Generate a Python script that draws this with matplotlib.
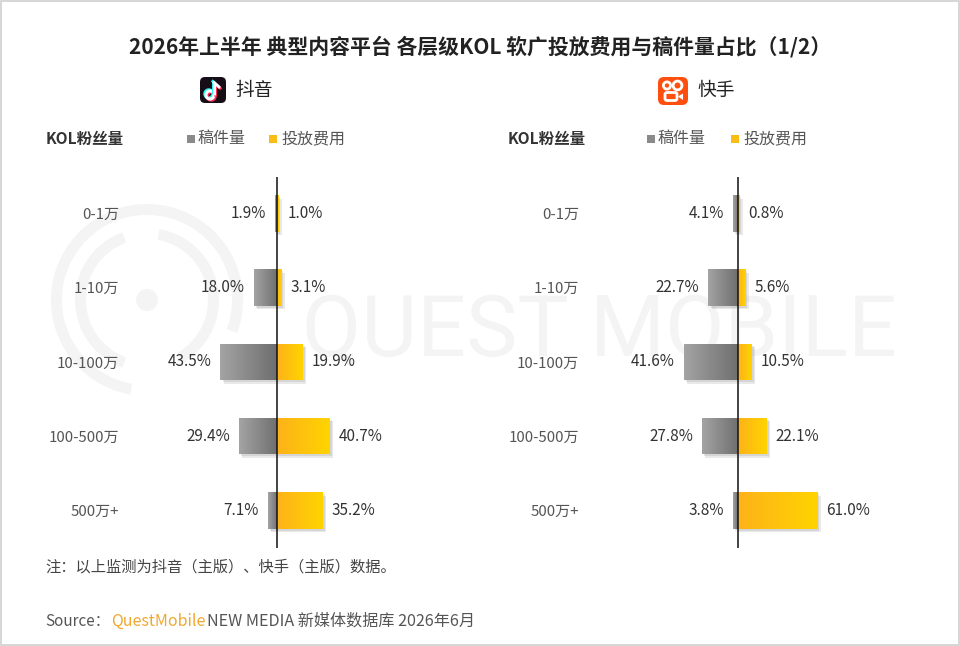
import numpy as np
import matplotlib
matplotlib.use('Agg')
import matplotlib.pyplot as plt
import matplotlib.patheffects as pe
from matplotlib.colors import LinearSegmentedColormap
from matplotlib.patches import FancyBboxPatch, Rectangle, Circle, Wedge, Polygon, Arc

plt.rcParams['font.family'] = ['Noto Sans CJK SC', 'DejaVu Sans']

# data
tiers = ['0-1万', '1-10万', '10-100万', '100-500万', '500万+']
dy_count = [1.9, 18.0, 43.5, 29.4, 7.1]     # 抖音 稿件量
dy_cost = [1.0, 3.1, 19.9, 40.7, 35.2]      # 抖音 投放费用
ks_count = [4.1, 22.7, 41.6, 27.8, 3.8]     # 快手 稿件量
ks_cost = [0.8, 5.6, 10.5, 22.1, 61.0]      # 快手 投放费用

W, H = 960, 646
fig = plt.figure(figsize=(W / 100, H / 100), dpi=100)
fig.patch.set_facecolor('white')

gray_cm = LinearSegmentedColormap.from_list('g', ['#a4a4a4', '#6e6e6e'])
gold_cm = LinearSegmentedColormap.from_list('y', ['#fdb21a', '#ffd400'])
grad = np.linspace(0, 1, 256).reshape(1, -1)

# overlay axes in pixel coords for decoration
deco = fig.add_axes([0, 0, 1, 1], zorder=0)
deco.set_xlim(0, W)
deco.set_ylim(H, 0)
deco.axis('off')

# watermark
wm = '#f4f4f4'
deco.add_patch(Wedge((147, 300), 96, 100, 380, width=11, color=wm, lw=0))
deco.add_patch(Wedge((147, 300), 72, 110, 250, width=11, color=wm, lw=0))
deco.add_patch(Wedge((147, 300), 72, 280, 60, width=11, color=wm, lw=0))
deco.add_patch(Circle((147, 300), 11, color=wm, lw=0))
deco.text(600, 332, 'QUEST MOBILE', fontsize=62, color=wm, ha='center', va='center',
          family=['Roboto', 'DejaVu Sans'])

# frame
deco.add_patch(Rectangle((0.5, 0.5), W - 1.5, H - 1.5, fill=False, ec='#cfcfcf', lw=1.2))

deco.text(480, 47, '2026年上半年 典型内容平台 各层级KOL 软广投放费用与稿件量占比（1/2）',
          fontsize=15, fontweight='bold', color='#222222', ha='center', va='center')

# douyin icon
deco.add_patch(FancyBboxPatch((200, 77), 26, 26, boxstyle='round,pad=0,rounding_size=5',
                              fc='#160d16', ec='none'))
for dx, dyy, c in [(-1.2, -1.2, '#25f4ee'), (1.2, 1.2, '#fe2c55'), (0, 0, 'white')]:
    deco.add_patch(Arc((210 + dx, 95 + dyy), 8, 8, theta1=0, theta2=360, lw=2.2, color=c))
    deco.plot([214 + dx, 214 + dx], [95 + dyy, 82 + dyy], color=c, lw=2.2, solid_capstyle='butt')
    deco.plot([214 + dx, 219 + dx], [82.5 + dyy, 87 + dyy], color=c, lw=2.0)
deco.text(235, 90, '抖音', fontsize=13.5, color='#222222', ha='left', va='center')

# kuaishou icon
deco.add_patch(FancyBboxPatch((658, 77), 30, 28, boxstyle='round,pad=0,rounding_size=6',
                              fc='#fe4f0f', ec='none'))
deco.add_patch(Circle((667, 85.5), 3.6, fill=False, ec='white', lw=2))
deco.add_patch(Circle((677.5, 85.5), 4.4, fill=False, ec='white', lw=2))
deco.add_patch(FancyBboxPatch((665, 92.5), 12, 8, boxstyle='round,pad=0,rounding_size=2',
                              fc='none', ec='white', lw=2))
deco.add_patch(Polygon([[678, 96.5], [683, 93.5], [683, 100]], closed=True, fc='white', ec='none'))
deco.text(697, 90, '快手', fontsize=13.5, color='#222222', ha='left', va='center')

# legends + headers
for hx, gx, yx in [(46, 187, 269), (508, 647, 731)]:
    deco.text(hx, 139, 'KOL粉丝量', fontsize=11.2, fontweight='bold', color='#333333',
              ha='left', va='center')
    deco.add_patch(Rectangle((gx, 135), 8, 8, fc='#8a8a8a', ec='none'))
    deco.text(gx + 11, 139, '稿件量', fontsize=11.5, color='#555555', ha='left', va='center')
    deco.add_patch(Rectangle((yx, 135), 8, 8, fc='#fbbd14', ec='none'))
    deco.text(yx + 12, 139, '投放费用', fontsize=11.5, color='#555555', ha='left', va='center')

deco.text(45, 567, '注：以上监测为抖音（主版）、快手（主版）数据。', fontsize=11,
          color='#444444', ha='left', va='center')
deco.text(45, 621, 'Source：', fontsize=11, color='#555555', ha='left', va='center')
deco.text(111, 621, 'QuestMobile', fontsize=11.5, color='#f0a830', ha='left', va='center')
deco.text(207, 621, 'NEW MEDIA 新媒体数据库 2026年6月', fontsize=11.6, color='#555555',
          ha='left', va='center')

# chart panels
scale = 1.3            # px per percent
row0, step = 213.3, 74.3
top_px, bot_px = 177, 548


def panel(ax_left, axis_x, ax_right, counts, costs):
    ax = fig.add_axes([ax_left / W, 1 - bot_px / H, (ax_right - ax_left) / W,
                       (bot_px - top_px) / H], zorder=2)
    ax.patch.set_alpha(0)
    xlim = (-(axis_x - ax_left) / scale, (ax_right - axis_x) / scale)
    ylim = (len(tiers) - 1 + (bot_px - (row0 + step * (len(tiers) - 1))) / step,
            -(row0 - top_px) / step)
    y = np.arange(len(tiers))
    shadow = [pe.SimplePatchShadow(offset=(2.5, -2.5), shadow_rgbFace='#888888', alpha=0.18),
              pe.SimplePatchShadow(offset=(1.5, -1.5), shadow_rgbFace='#888888', alpha=0.2),
              pe.Normal()]
    gbars = ax.barh(y, [-v for v in counts], height=0.49, color='#888888', zorder=2)
    ybars = ax.barh(y, costs, height=0.49, color='#fcc21a', zorder=2)
    for bars, cm in [(gbars, gray_cm), (ybars, gold_cm)]:
        for p in bars:
            p.set_path_effects(shadow)
            x0 = min(p.get_x(), p.get_x() + p.get_width())
            x1 = max(p.get_x(), p.get_x() + p.get_width())
            im = ax.imshow(grad, cmap=cm, extent=(x0, x1, p.get_y() + p.get_height(), p.get_y()),
                           aspect='auto', zorder=3, interpolation='bilinear')
            im.set_clip_path(p)
    for i, (c, v) in enumerate(zip(counts, costs)):
        ax.annotate(f'{c:.1f}%', (-c, i), xytext=(-6.5, 0), textcoords='offset points',
                    ha='right', va='center', fontsize=11, color='#333333')
        ax.annotate(f'{v:.1f}%', (v, i), xytext=(6.5, 0), textcoords='offset points',
                    ha='left', va='center', fontsize=11, color='#333333')
    ax.axvline(0, color='#111111', lw=1.1, zorder=4)
    ax.set_xlim(*xlim)
    ax.set_ylim(*ylim)
    ax.set_yticks(y)
    ax.set_yticklabels(tiers, fontsize=10.8, color='#555555')
    ax.tick_params(axis='y', length=0, pad=6.5)
    ax.set_xticks([])
    for s in ax.spines.values():
        s.set_visible(False)
    return ax


panel(128, 277, 470, dy_count, dy_cost)
panel(588, 738, 935, ks_count, ks_cost)

fig.savefig('out.png', dpi=100, facecolor='white')
